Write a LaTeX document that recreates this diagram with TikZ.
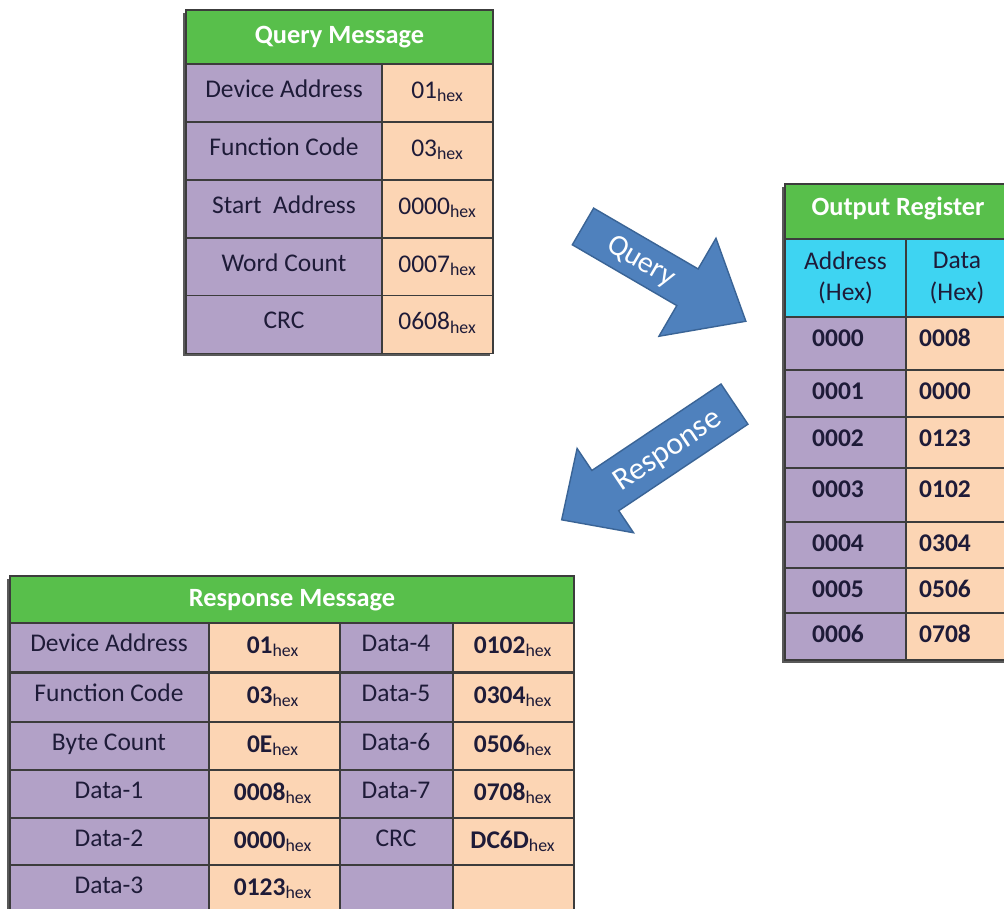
\documentclass[tikz,border=0pt]{standalone}
\usepackage{fontspec}
\setmainfont{Carlito}
\usetikzlibrary{shapes.arrows}

\definecolor{hdrgreen}{HTML}{58BF4B}
\definecolor{lilac}{HTML}{B2A1C7}
\definecolor{peach}{HTML}{FCD5B4}
\definecolor{cyanhd}{HTML}{3ED4F2}
\definecolor{ink}{HTML}{1E1B38}
\definecolor{gridline}{HTML}{3C3C3C}
\definecolor{arrowblue}{HTML}{4F81BD}
\definecolor{arrowline}{HTML}{3A6496}

\newcommand{\hx}{\textsubscript{\mdseries hex}}

\begin{document}
\begin{tikzpicture}[x=0.02cm, y=-0.02cm,
    cell/.style={draw=gridline, line width=0.7pt},
    shade/.style={fill=black!65},
    txt/.style={font=\fontsize{14.5}{18}\selectfont, text=ink, inner sep=0pt, text height=9pt, text depth=2pt},
    btxt/.style={txt, font=\fontsize{14.5}{18}\selectfont\bfseries},
    twoline/.style={font=\fontsize{14.5}{18}\selectfont, text=ink, inner sep=0pt, align=center},
    hdr/.style={font=\fontsize{15}{18}\selectfont\bfseries, text=white, inner sep=0pt},
    blockarr/.style={single arrow, draw=arrowline, fill=arrowblue, line width=0.8pt, inner xsep=0pt, text height=0pt, text depth=0pt},
    arrtxt/.style={text=white, inner sep=0pt}
]
\fill[white] (0,0) rectangle (1004,909);
\useasboundingbox (0,0) rectangle (1004,909);
\clip (0,0) rectangle (1004,909);

% query message
\fill[shade] (183,13) rectangle (490,356);
\path[cell, fill=hdrgreen] (186,10) rectangle (493,64);
\node[hdr] (qhead) at (339.5,37) {Query Message};
\foreach \y/\lab/\v [count=\i] in {64/Device Address/01, 122/Function Code/03, 180/Start~~Address/0000, 238/Word Count/0007, 295.5/CRC/0608}{
    \path[cell, fill=lilac] (186,\y) rectangle (382,\y+57.8);
    \path[cell, fill=peach] (382,\y) rectangle (493,\y+57.8);
    \node[txt] (qlab\i) at (284,\y+27) {\lab};
    \node[txt] (qval\i) at (437.5,\y+28) {\v\hx};
}

% output register
\fill[shade] (782,187) rectangle (1012,663);
\path[cell, fill=hdrgreen] (785,184) rectangle (1012,239);
\node[hdr] (ohead) at (898,208) {Output Register};
\path[cell, fill=cyanhd] (785,239) rectangle (906,317);
\path[cell, fill=cyanhd] (906,239) rectangle (1012,317);
\node[twoline] (oaddr) at (845.5,278) {Address\\(Hex)};
\node[twoline] (odata) at (957,278) {Data\\(Hex)};
\foreach \y/\h/\a/\d [count=\i] in {317/53/0000/0008, 370/47/0001/0000, 417/51/0002/0123, 468/54/0003/0102, 522/46/0004/0304, 568/45/0005/0506, 613/47/0006/0708}{
    \path[cell, fill=lilac] (785,\y) rectangle (906,\y+\h);
    \path[cell, fill=peach] (906,\y) rectangle (1012,\y+\h);
    \node[btxt] (oadr\i) at (838,\y+23) {\a};
    \node[btxt] (odat\i) at (945,\y+23) {\d};
}

% response message
\fill[shade] (7,579) rectangle (571,915);
\path[cell, fill=hdrgreen] (10,576) rectangle (574,623);
\node[hdr] (rhead) at (292,600) {Response Message};
\foreach \y/\a/\b/\c/\d [count=\i] in {623/Device Address/01\hx/Data-4/0102\hx, 673/Function Code/03\hx/Data-5/0304\hx, 722/Byte Count/0E\hx/Data-6/0506\hx, 770/Data-1/0008\hx/Data-7/0708\hx, 818/Data-2/0000\hx/CRC/DC6D\hx, 865/Data-3/0123\hx/{}/{}}{
    \path[cell, fill=lilac] (10,\y) rectangle (209,\y+48.5);
    \path[cell, fill=peach] (209,\y) rectangle (340,\y+48.5);
    \path[cell, fill=lilac] (340,\y) rectangle (453,\y+48.5);
    \path[cell, fill=peach] (453,\y) rectangle (574,\y+48.5);
    \node[txt] (rlab\i) at (109,\y+22) {\a};
    \node[btxt] (rval\i) at (273,\y+24) {\b};
    \node[txt] (rlabb\i) at (396,\y+22) {\c};
    \node[btxt] (rvalb\i) at (513,\y+24) {\d};
}

% block arrows
\node[blockarr, rotate=-30.2, inner ysep=0.41cm, minimum height=3.77cm, single arrow head extend=0.71cm, single arrow tip angle=80] (qarrow) at (653.5,267.5) {};
\node[arrtxt, rotate=-30.2, font=\fontsize{17}{19}\selectfont] (qtext) at (641,262) {Query};
\node[blockarr, rotate=33.8, shape border rotate=180, inner ysep=0.47cm, minimum height=4.16cm, single arrow head extend=0.53cm, single arrow tip angle=88] (rarrow) at (658.5,455) {};
\node[arrtxt, rotate=33.8, font=\fontsize{18}{20}\selectfont] (rtext) at (668,451) {Response};
\end{tikzpicture}
\end{document}
